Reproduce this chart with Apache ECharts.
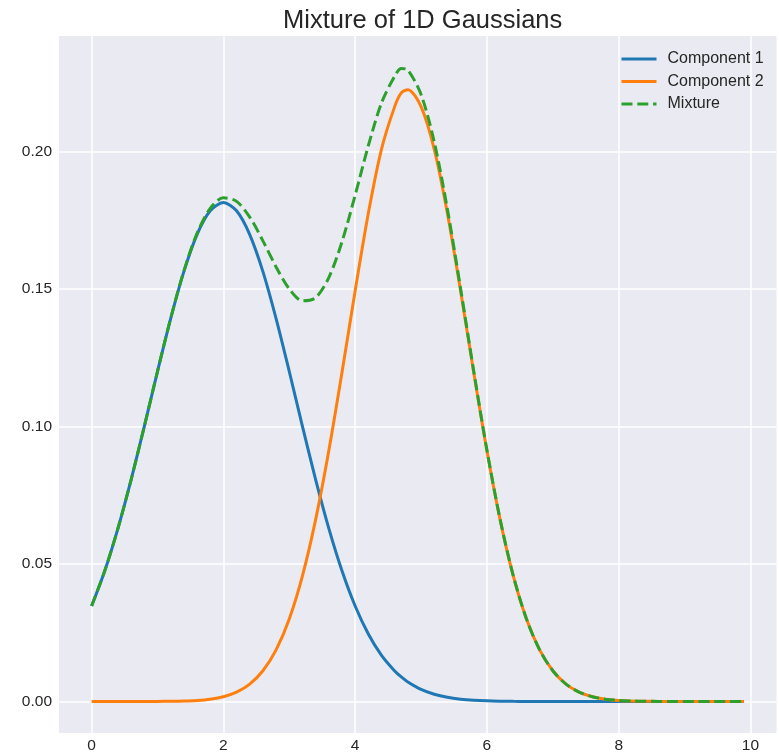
<!DOCTYPE html>
<html>
<head>
<meta charset="utf-8">
<script src="https://cdn.jsdelivr.net/npm/echarts@6/dist/echarts.min.js"></script>
<style>html,body{margin:0;padding:0;background:#fff;}#c{width:779px;height:754px;}</style>
</head>
<body>
<div id="c"></div>
<script>
const xs = [0,0.2,0.4,0.6,0.8,1.0,1.2,1.4,1.6,1.8,
  2.0,2.2,2.4,2.6,2.8,3.0,3.2,3.4,3.6,3.8,
  4.0,4.2,4.4,4.6,4.7,4.8,5.0,5.2,5.4,5.6,5.8,
  6.0,6.2,6.4,6.6,6.8,7.0,7.2,7.4,7.6,7.8,
  8.0,8.2,8.4,8.6,8.8,9.0,9.2,9.4,9.6,9.8,9.9];
const component1 = [0.034724,0.047539,0.062957,0.080675,0.100015,0.119958,0.139198,0.156272,0.169735,0.178365,
  0.181337,0.178365,0.169735,0.156272,0.139198,0.119958,0.100015,0.080675,0.062957,0.047539,
  0.034724,0.024541,0.016780,0.011100,0.008917,0.007104,0.004399,0.002635,0.001527,0.000856,0.000465,
  0.000244,0.000124,0.000061,0.000029,0.000013,0.000006,0.000002,0.000001,0,0,
  0,0,0,0,0,0,0,0,0,0,0];
const component2 = [0,0.0000005,0.0000014,0.0000041,0.0000114,0.0000299,0.0000744,0.000176,0.000399,0.000857,
  0.001753,0.003415,0.006331,0.011171,0.018764,0.029995,0.045642,0.066097,0.091116,0.119552,
  0.149300,0.177470,0.200790,0.216229,0.221200,0.222400,0.216229,0.200790,0.177470,0.149300,0.119552,
  0.091116,0.066097,0.045642,0.029995,0.018764,0.011171,0.006331,0.003415,0.001753,0.000857,
  0.000399,0.000176,0.000074,0.000030,0.000011,0.000004,0.000001,0.0000005,0,0,0];
const mixture = [0.034724,0.047540,0.062958,0.080679,0.100026,0.119988,0.139272,0.156448,0.170134,0.179222,
  0.183090,0.181780,0.176066,0.167443,0.157962,0.149953,0.145657,0.146772,0.154073,0.167091,
  0.184024,0.202011,0.217570,0.227329,0.230100,0.229500,0.220628,0.203425,0.178997,0.150156,0.120017,
  0.091360,0.066221,0.045703,0.030024,0.018777,0.011177,0.006333,0.003416,0.001753,0.000857,
  0.000399,0.000176,0.000074,0.000030,0.000011,0.000004,0.000001,0.0000005,0,0,0];
const xTicks = [0,2,4,6,8,10];
const yTicks = [0,0.05,0.10,0.15,0.20];
const seriesNames = ['Component 1','Component 2','Mixture'];

const pairs = arr => xs.map((x,i)=>[x, arr[i]]);
const FONT = '"Liberation Sans", Arial, sans-serif';
const TXT = '#262626';

const chart = echarts.init(document.getElementById('c'), null, {renderer:'canvas'});
chart.setOption({
  backgroundColor:'#ffffff',
  animation:false,
  title:{
    text:'Mixture of 1D Gaussians',
    left:417.7, top:3, textAlign:'center',
    textStyle:{fontFamily:FONT, fontSize:25.5, fontWeight:'normal', color:TXT}
  },
  legend:{
    data:seriesNames,
    orient:'vertical',
    left:620, top:51, padding:0,
    itemWidth:35, itemHeight:14, itemGap:6.5,
    itemStyle:{opacity:0},
    lineStyle:{width:3},
    textStyle:{fontFamily:FONT, fontSize:16, lineHeight:16, color:TXT, padding:[0,0,0,6]}
  },
  grid:{
    left:59, right:2.5, top:36, bottom:18.5,
    show:true, backgroundColor:'#EAEAF2', borderWidth:0
  },
  xAxis:{
    type:'value', min:-0.495, max:10.395,
    axisLine:{show:false}, axisTick:{show:false}, splitLine:{show:false},
    axisLabel:{customValues:xTicks, margin:5, fontFamily:FONT, fontSize:15.5, color:TXT,
      formatter:v=>String(Math.round(v))}
  },
  yAxis:{
    type:'value', min:-0.01145, max:0.2419,
    axisLine:{show:false}, axisTick:{show:false}, splitLine:{show:false},
    axisLabel:{customValues:yTicks, margin:7, fontFamily:FONT, fontSize:15.5, color:TXT,
      formatter:v=>v.toFixed(2)}
  },
  series:[
    {
      name:'grid', type:'line', data:pairs(component1), symbol:'none', silent:true,
      lineStyle:{opacity:0}, z:1,
      markLine:{
        z:1, silent:true, symbol:['none','none'], label:{show:false},
        emphasis:{disabled:true},
        lineStyle:{color:'#ffffff', width:1.5, type:'solid'},
        data:[...xTicks.map(v=>({xAxis:v})), ...yTicks.map(v=>({yAxis:v}))]
      }
    },
    {name:'Component 1', type:'line', data:pairs(component1), symbol:'none', smooth:0.3,
      color:'#1f77b4', lineStyle:{color:'#1f77b4', width:3}, z:3},
    {name:'Component 2', type:'line', data:pairs(component2), symbol:'none', smooth:0.3,
      color:'#ff7f0e', lineStyle:{color:'#ff7f0e', width:3}, z:4},
    {name:'Mixture', type:'line', data:pairs(mixture), symbol:'none', smooth:0.3,
      color:'#2ca02c', lineStyle:{color:'#2ca02c', width:3, type:[11,4.8]}, z:5}
  ]
});
</script>
</body>
</html>
